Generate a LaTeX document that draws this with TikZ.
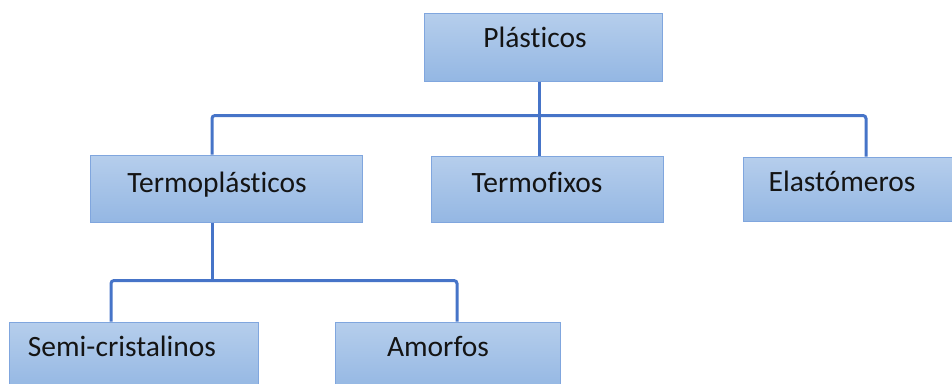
\documentclass[tikz,border=0pt]{standalone}
\usepackage{fontspec}
\setmainfont[Ligatures=NoCommon]{Carlito}
\begin{document}
\definecolor{boxtop}{RGB}{182,206,236}
\definecolor{boxbot}{RGB}{148,183,227}
\definecolor{boxedge}{RGB}{128,166,222}
\definecolor{linkblue}{RGB}{70,116,200}
\definecolor{ink}{RGB}{20,20,20}
\begin{tikzpicture}[x=1pt,y=-1pt,
  box/.style={draw=boxedge,line width=1pt,top color=boxtop,bottom color=boxbot,inner sep=0pt},
  lbl/.style={anchor=base,text=ink,font=\fontsize{29.5}{34}\selectfont,inner sep=0pt},
  conn/.style={draw=linkblue,line width=3pt,rounded corners=3pt}]
\useasboundingbox (0,0) rectangle (952,383);
\begin{scope}
\clip (0,0) rectangle (952,383);
% boxes
\node[box,minimum width=238pt,minimum height=68pt] (P) at (543,47) {};
\node[box,minimum width=272pt,minimum height=67pt] (Tp) at (226,188.5) {};
\node[box,minimum width=232pt,minimum height=66pt] (Tf) at (547,189) {};
\node[box,minimum width=215pt,minimum height=64pt] (El) at (850.5,189) {};
\node[box,minimum width=249pt,minimum height=68pt] (Sc) at (133.5,356) {};
\node[box,minimum width=225pt,minimum height=68pt] (Am) at (447.5,356) {};
% labels
\node[lbl] (Pl) at (535,47) {Plásticos};
\node[lbl] (Tpl) at (217,192) {Termoplásticos};
\node[lbl] (Tfl) at (537,192) {Termofixos};
\node[lbl] (Ell) at (842,191) {Elastómeros};
\node[lbl] (Scl) at (122,356) {Semi-cristalinos};
\node[lbl] (Aml) at (438,356) {Amorfos};
% bus levels
\coordinate (busA) at (0,115.5);
\coordinate (busB) at (0,280.5);
% connectors
\draw[conn] ([xshift=-4pt]P.south) -- ([xshift=-8pt]Tf.north);
\draw[conn] ([xshift=-14pt]Tp.north) -- ([xshift=-14pt]Tp.north |- busA)
   -- ([xshift=15.5pt]El.north |- busA) -- ([xshift=15.5pt]El.north);
\draw[conn] ([xshift=-14pt]Tp.south) -- ([xshift=-14pt]Tp.south |- busB);
\draw[conn] ([xshift=-22.5pt]Sc.north) -- ([xshift=-22.5pt]Sc.north |- busB)
   -- ([xshift=9.5pt]Am.north |- busB) -- ([xshift=9.5pt]Am.north);
\end{scope}
\end{tikzpicture}
\end{document}
